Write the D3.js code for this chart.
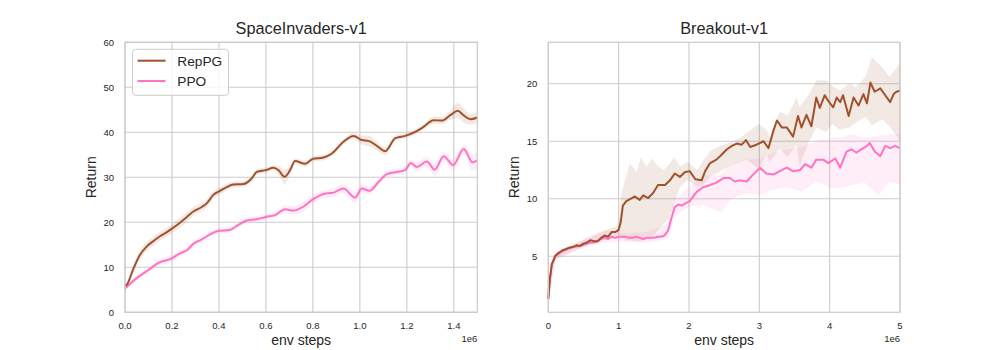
<!DOCTYPE html>
<html>
<head>
<meta charset="utf-8">
<script src="https://cdn.jsdelivr.net/npm/d3@7"></script>
<style>
  body { margin: 0; background: #fff; }
  svg text { font-family: "Liberation Sans", Arial, sans-serif; fill: #262626; }
</style>
</head>
<body>
<svg id="chart" width="1000" height="350"></svg>
<script>
// ---- SpaceInvaders-v1 (x in 1e6 env steps) ----
const siRepX = [0.0, 0.007, 0.035, 0.064, 0.092, 0.12, 0.149, 0.175, 0.2, 0.234, 0.262, 0.291, 0.327, 0.348, 0.376, 0.405, 0.433, 0.461, 0.504, 0.54, 0.561, 0.6, 0.632, 0.655, 0.679, 0.703, 0.724, 0.767, 0.8, 0.845, 0.881, 0.93, 0.973, 1.008, 1.037, 1.072, 1.108, 1.151, 1.193, 1.236, 1.271, 1.314, 1.349, 1.385, 1.417, 1.441, 1.47, 1.5];
const siRepY = [5.9, 6.1, 9.6, 12.8, 14.6, 15.8, 16.9, 17.7, 18.6, 19.9, 21.1, 22.4, 23.4, 24.2, 26.1, 27.0, 27.8, 28.4, 28.5, 29.8, 31.2, 31.6, 32.1, 31.5, 30.1, 31.6, 33.6, 33.0, 34.1, 34.4, 35.3, 37.9, 39.2, 38.3, 38.1, 37.0, 35.8, 38.7, 39.2, 40.1, 41.2, 42.7, 42.6, 43.8, 44.8, 43.8, 42.9, 43.3];
const siRepSpread = [0.4, 0.5, 0.8, 1.0, 1.0, 1.0, 1.0, 1.0, 1.1, 1.1, 1.1, 1.0, 0.9, 0.9, 0.8, 0.8, 0.7, 0.6, 0.6, 0.6, 0.6, 0.6, 0.6, 1.0, 1.6, 0.9, 0.6, 0.7, 0.6, 0.6, 0.6, 0.6, 0.7, 1.0, 1.2, 1.0, 0.9, 0.6, 0.6, 0.6, 0.6, 0.8, 0.8, 1.0, 1.7, 1.6, 1.2, 1.2];

const siPpoX = [0.0, 0.05, 0.1, 0.142, 0.192, 0.234, 0.263, 0.291, 0.327, 0.362, 0.4, 0.447, 0.476, 0.518, 0.561, 0.6, 0.639, 0.682, 0.717, 0.76, 0.8, 0.845, 0.888, 0.93, 0.98, 1.008, 1.041, 1.08, 1.115, 1.158, 1.193, 1.217, 1.243, 1.285, 1.319, 1.357, 1.397, 1.442, 1.48, 1.5];
const siPpoY = [5.3, 7.6, 9.4, 11.0, 11.8, 13.1, 13.8, 15.2, 16.2, 17.3, 18.1, 18.3, 19.2, 20.4, 20.7, 21.2, 21.6, 22.9, 22.6, 23.5, 25.1, 26.3, 26.6, 27.5, 25.5, 27.5, 27.0, 29.0, 30.7, 31.2, 31.6, 33.2, 32.3, 33.5, 31.7, 34.7, 32.7, 36.3, 33.3, 33.8];
const siPpoSpread = [0.4, 0.6, 0.6, 0.6, 0.7, 0.7, 0.7, 0.7, 0.7, 0.7, 0.6, 0.6, 0.6, 0.6, 0.6, 0.6, 0.7, 0.9, 1.0, 1.1, 1.0, 0.9, 0.9, 1.0, 1.3, 1.0, 0.9, 0.8, 0.7, 0.7, 0.7, 0.8, 1.0, 1.1, 1.5, 1.0, 1.3, 1.0, 1.8, 1.8];

// ---- Breakout-v1 (x in 1e6 env steps) ----
const brRepX = [0, 0.02, 0.05, 0.1, 0.15, 0.2, 0.3, 0.35, 0.4, 0.45, 0.5, 0.55, 0.6, 0.65, 0.7, 0.75, 0.8, 0.85, 0.9, 0.95, 1.0, 1.03, 1.06, 1.11, 1.17, 1.23, 1.3, 1.35, 1.42, 1.49, 1.56, 1.66, 1.73, 1.8, 1.87, 1.94, 2.01, 2.09, 2.18, 2.23, 2.3, 2.39, 2.46, 2.54, 2.61, 2.68, 2.75, 2.81, 2.87, 2.96, 3.06, 3.13, 3.2, 3.25, 3.32, 3.39, 3.48, 3.55, 3.6, 3.67, 3.74, 3.81, 3.86, 3.93, 3.98, 4.05, 4.1, 4.15, 4.19, 4.27, 4.34, 4.41, 4.48, 4.53, 4.58, 4.64, 4.72, 4.79, 4.86, 4.91, 4.95, 5.0];
const brRepY = [1.3, 2.9, 4.3, 5.05, 5.3, 5.5, 5.75, 5.8, 5.95, 5.9, 6.1, 6.2, 6.4, 6.3, 6.3, 6.6, 6.8, 6.7, 7.1, 7.1, 7.3, 8.0, 9.4, 9.8, 10.0, 10.2, 9.9, 10.3, 10.06, 10.5, 11.2, 11.2, 11.6, 12.2, 11.9, 12.3, 12.4, 11.7, 11.6, 12.4, 13.1, 13.4, 13.8, 14.3, 14.6, 14.8, 14.7, 15.1, 14.5, 14.7, 15.0, 14.4, 15.9, 16.8, 16.2, 16.2, 15.4, 17.2, 16.2, 17.3, 16.3, 18.8, 17.9, 19.0, 18.5, 17.95, 18.8, 18.4, 19.0, 17.2, 18.8, 18.1, 19.1, 18.3, 20.1, 19.3, 19.6, 19.0, 18.4, 19.1, 19.3, 19.4];
const brRepBandX = [0, 0.1, 0.5, 0.9, 1.0, 1.04, 1.1, 1.16, 1.26, 1.31, 1.4, 1.48, 1.55, 1.64, 1.72, 1.79, 1.88, 1.98, 2.12, 2.2, 2.31, 2.45, 2.63, 2.73, 2.82, 2.99, 3.1, 3.15, 3.29, 3.4, 3.53, 3.57, 3.7, 3.81, 3.95, 4.04, 4.14, 4.28, 4.37, 4.51, 4.6, 4.75, 4.85, 4.97, 5.0];
const brRepLo = [1.0, 4.8, 5.8, 6.7, 6.9, 6.8, 6.3, 6.4, 6.3, 6.3, 6.5, 6.6, 7.2, 7.8, 8.3, 9.6, 11.1, 11.6, 11.0, 11.2, 12.0, 12.4, 13.0, 13.2, 13.4, 12.6, 13.8, 13.2, 14.4, 13.6, 14.7, 12.8, 14.9, 16.2, 15.8, 16.5, 16.0, 16.2, 16.6, 17.1, 16.4, 16.9, 16.3, 15.3, 14.8];
const brRepHi = [1.6, 5.3, 6.4, 7.5, 7.6, 10.5, 11.8, 13.1, 12.3, 13.6, 12.8, 13.5, 12.9, 12.5, 13.0, 13.6, 12.8, 13.2, 12.5, 13.3, 14.2, 14.6, 15.0, 15.3, 15.7, 16.5, 16.0, 15.3, 17.6, 17.2, 18.8, 18.0, 19.0, 20.3, 20.3, 19.8, 19.4, 20.0, 19.7, 20.6, 22.3, 21.4, 20.6, 21.5, 21.9];

const brPpoX = [0, 0.02, 0.05, 0.1, 0.15, 0.2, 0.3, 0.35, 0.4, 0.45, 0.5, 0.55, 0.6, 0.65, 0.7, 0.75, 0.8, 0.85, 0.9, 0.95, 1.0, 1.05, 1.1, 1.15, 1.2, 1.25, 1.3, 1.35, 1.4, 1.45, 1.5, 1.55, 1.6, 1.65, 1.7, 1.75, 1.8, 1.85, 1.9, 1.95, 2.01, 2.11, 2.2, 2.3, 2.39, 2.49, 2.58, 2.65, 2.72, 2.82, 2.91, 3.01, 3.1, 3.2, 3.29, 3.39, 3.48, 3.58, 3.65, 3.74, 3.81, 3.91, 3.98, 4.08, 4.15, 4.24, 4.31, 4.38, 4.45, 4.53, 4.57, 4.64, 4.72, 4.79, 4.86, 4.93, 5.0];
const brPpoY = [1.3, 2.9, 4.3, 5.0, 5.25, 5.45, 5.7, 5.8, 5.85, 5.9, 6.0, 6.1, 6.2, 6.2, 6.3, 6.5, 6.6, 6.5, 6.7, 6.6, 6.7, 6.7, 6.7, 6.6, 6.6, 6.7, 6.6, 6.5, 6.6, 6.6, 6.6, 6.7, 6.7, 6.8, 7.2, 8.3, 9.3, 9.5, 9.4, 9.6, 9.8, 10.6, 11.0, 11.2, 11.4, 11.8, 11.8, 11.5, 11.6, 11.5, 12.1, 12.7, 12.2, 12.1, 12.4, 12.7, 12.4, 12.5, 13.0, 12.7, 13.4, 13.4, 13.1, 13.5, 12.7, 14.1, 14.3, 14.0, 14.3, 14.6, 14.85, 14.1, 13.7, 14.6, 14.4, 14.6, 14.4];
const brPpoBandX = [0, 0.1, 0.5, 0.8, 1.0, 1.4, 1.7, 1.8, 2.0, 2.2, 2.45, 2.6, 2.8, 3.0, 3.2, 3.4, 3.6, 3.8, 4.04, 4.2, 4.32, 4.5, 4.7, 4.85, 5.0];
const brPpoLo = [1.0, 4.6, 5.8, 6.2, 6.3, 6.2, 6.5, 8.5, 9.3, 9.5, 8.8, 10.0, 10.5, 10.3, 10.8, 11.0, 10.6, 11.5, 10.9, 11.0, 11.2, 11.4, 10.3, 11.5, 11.2];
const brPpoHi = [1.6, 5.4, 6.5, 7.3, 7.0, 7.1, 7.8, 10.0, 11.0, 12.0, 12.1, 13.0, 13.4, 13.5, 14.0, 14.3, 14.5, 15.0, 15.3, 15.4, 15.6, 15.3, 15.5, 15.6, 15.7];

const seriesNames = ["RepPG", "PPO"];
const colors = { RepPG: "#a0522d", PPO: "#ff73c1" };

const svg = d3.select("#chart");
const plotTop = 42.3, plotBottom = 312.3;

function drawPanel(cfg) {
  const x = d3.scaleLinear().domain(cfg.xDomain).range([cfg.left, cfg.right]);
  const y = d3.scaleLinear().domain(cfg.yDomain).range([plotBottom, plotTop]);
  const g = svg.append("g");

  // grid
  g.append("g").selectAll("line").data(cfg.xTicks).enter().append("line")
    .attr("x1", d => x(d)).attr("x2", d => x(d))
    .attr("y1", plotTop).attr("y2", plotBottom)
    .attr("stroke", "#cccccc").attr("stroke-width", 1.1);
  g.append("g").selectAll("line").data(cfg.yTicks).enter().append("line")
    .attr("x1", cfg.left).attr("x2", cfg.right)
    .attr("y1", d => y(d)).attr("y2", d => y(d))
    .attr("stroke", "#cccccc").attr("stroke-width", 1.1);

  // bands + lines
  cfg.series.forEach(s => {
    const band = d3.area()
      .x(d => x(d[0])).y0(d => y(d[1])).y1(d => y(d[2]))
      .curve(cfg.curve);
    g.append("path")
      .datum(s.band)
      .attr("d", band)
      .attr("fill", colors[s.name])
      .attr("fill-opacity", 0.13);
  });
  cfg.series.slice().reverse().forEach(s => {
    const line = d3.line().x(d => x(d[0])).y(d => y(d[1])).curve(cfg.curve);
    g.append("path")
      .datum(s.xs.map((v, i) => [v, s.ys[i]]))
      .attr("d", line)
      .attr("fill", "none")
      .attr("stroke", colors[s.name])
      .attr("stroke-width", 2)
      .attr("stroke-linejoin", "round");
  });

  // spines
  g.append("rect")
    .attr("x", cfg.left).attr("y", plotTop)
    .attr("width", cfg.right - cfg.left).attr("height", plotBottom - plotTop)
    .attr("fill", "none").attr("stroke", "#cccccc").attr("stroke-width", 1.25);

  // tick labels
  g.append("g").selectAll("text").data(cfg.xTicks).enter().append("text")
    .attr("x", d => x(d)).attr("y", plotBottom + 17)
    .attr("text-anchor", "middle").attr("font-size", 9.5)
    .text(cfg.xFormat);
  g.append("g").selectAll("text").data(cfg.yTicks).enter().append("text")
    .attr("x", cfg.left - 11).attr("y", d => y(d) + 3.5)
    .attr("text-anchor", "end").attr("font-size", 9.5)
    .text(d => d);

  g.append("text").attr("x", cfg.right).attr("y", plotBottom + 30)
    .attr("text-anchor", "end").attr("font-size", 9.5).text("1e6");

  g.append("text").attr("x", (cfg.left + cfg.right) / 2).attr("y", 34)
    .attr("text-anchor", "middle").attr("font-size", 16.3).text(cfg.title);
  g.append("text").attr("x", (cfg.left + cfg.right) / 2).attr("y", 345)
    .attr("text-anchor", "middle").attr("font-size", 14).text("env steps");
  g.append("text")
    .attr("transform", `translate(${cfg.left - 29},${(plotTop + plotBottom) / 2}) rotate(-90)`)
    .attr("text-anchor", "middle").attr("font-size", 14).text("Return");
}

const zip3 = (a, b, c) => a.map((v, i) => [v, b[i], c[i]]);

drawPanel({
  title: "SpaceInvaders-v1",
  left: 125, right: 477.3,
  xDomain: [0, 1.5], yDomain: [0, 60],
  xTicks: [0, 0.2, 0.4, 0.6, 0.8, 1.0, 1.2, 1.4],
  yTicks: [0, 10, 20, 30, 40, 50, 60],
  xFormat: d3.format(".1f"),
  curve: d3.curveMonotoneX,
  series: [
    { name: "RepPG", xs: siRepX, ys: siRepY,
      band: siRepX.map((v, i) => [v, siRepY[i] - siRepSpread[i], siRepY[i] + siRepSpread[i]]) },
    { name: "PPO", xs: siPpoX, ys: siPpoY,
      band: siPpoX.map((v, i) => [v, siPpoY[i] - siPpoSpread[i], siPpoY[i] + siPpoSpread[i]]) }
  ]
});

drawPanel({
  title: "Breakout-v1",
  left: 548.3, right: 900,
  xDomain: [0, 5], yDomain: [0.13, 23.6],
  xTicks: [0, 1, 2, 3, 4, 5],
  yTicks: [5, 10, 15, 20],
  xFormat: d => d,
  curve: d3.curveLinear,
  series: [
    { name: "RepPG", xs: brRepX, ys: brRepY, band: zip3(brRepBandX, brRepLo, brRepHi) },
    { name: "PPO", xs: brPpoX, ys: brPpoY, band: zip3(brPpoBandX, brPpoLo, brPpoHi) }
  ]
});

// legend
const legend = svg.append("g");
legend.append("rect")
  .attr("x", 132.5).attr("y", 49.3).attr("width", 96).attr("height", 46)
  .attr("rx", 3).attr("fill", "#fff").attr("fill-opacity", 0.8)
  .attr("stroke", "#cccccc").attr("stroke-width", 1);
seriesNames.forEach((name, i) => {
  const ly = 60.7 + i * 20.3;
  legend.append("line")
    .attr("x1", 137.5).attr("x2", 165.5).attr("y1", ly).attr("y2", ly)
    .attr("stroke", colors[name]).attr("stroke-width", 2);
  legend.append("text")
    .attr("x", 177.3).attr("y", ly + 5)
    .attr("font-size", 13.7).text(name);
});
</script>
</body>
</html>
